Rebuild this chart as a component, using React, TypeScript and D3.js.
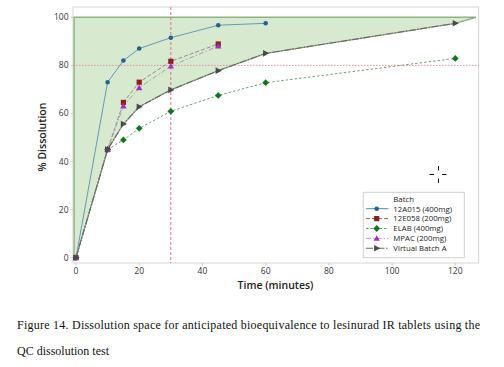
import * as d3 from "d3";

// dissolution data (time in minutes, % dissolved)
const batchNames = ["12A015 (400mg)", "12E058 (200mg)", "ELAB (400mg)", "MPAC (200mg)", "Virtual Batch A"];
const timesA015 = [0, 10, 15, 20, 30, 45, 60];
const valuesA015 = [0, 73, 82, 87, 91.5, 96.7, 97.5];
const timesE058 = [0, 10, 15, 20, 30, 45];
const valuesE058 = [0, 45, 64.6, 73, 81.7, 88.9];
const timesELAB = [0, 10, 15, 20, 30, 45, 60, 120];
const valuesELAB = [0, 45, 49, 53.8, 60.9, 67.5, 72.8, 82.9];
const timesMPAC = [0, 10, 15, 20, 30, 45];
const valuesMPAC = [0, 45, 63.1, 70.7, 79.7, 88];
const timesVirtual = [0, 10, 15, 20, 30, 45, 60, 120];
const valuesVirtual = [0, 45, 55.6, 62.8, 69.8, 77.8, 85, 97.5];
// edge of the shaded dissolution space beyond the last virtual point
const spaceEndTime = 126.5;
const spaceLeftTime = -0.6;

const xTicks = [0, 20, 40, 60, 80, 100, 120];
const yTicks = [0, 20, 40, 60, 80, 100];
const refTime = 30;
const refPct = 80;

const W = 504;
const H = 367;
const font = "'Open Sans', 'Noto Sans', sans-serif";

const x = d3.scaleLinear().domain([0, 120]).range([76, 455.3]);
const y = d3.scaleLinear().domain([0, 100]).range([257.7, 17.3]);
const frame = { x0: 73, x1: 478.7, y0: 7, y1: 263 };

type Series = {
  name: string;
  t: number[];
  v: number[];
  line: string;
  legendLine: string;
  marker: string;
  dash: string;
  width: number;
  shape: string;
};

const series: Series[] = [
  { name: batchNames[0], t: timesA015, v: valuesA015, line: "#5a8fb8", legendLine: "#3f78b0", marker: "#24628f", dash: "", width: 0.9, shape: "circle" },
  { name: batchNames[1], t: timesE058, v: valuesE058, line: "#9a8c8c", legendLine: "#b05050", marker: "#8e1f1f", dash: "4,2", width: 1, shape: "square" },
  { name: batchNames[2], t: timesELAB, v: valuesELAB, line: "#5e9466", legendLine: "#3f9a4a", marker: "#13751f", dash: "2.5,2", width: 0.9, shape: "diamond" },
  { name: batchNames[3], t: timesMPAC, v: valuesMPAC, line: "#ad9fb3", legendLine: "#c890d8", marker: "#a030c0", dash: "5,2,1.5,2", width: 1, shape: "triangle" },
  { name: batchNames[4], t: timesVirtual, v: valuesVirtual, line: "#666", legendLine: "#666", marker: "#4a4a4a", dash: "7,1.5,1.5,1.5", width: 1.1, shape: "right" }
];

function markerPath(shape: string, cx: number, cy: number): string {
  switch (shape) {
    case "circle":
      return `M${cx - 2.3},${cy}a2.3,2.3 0 1,0 4.6,0a2.3,2.3 0 1,0 -4.6,0Z`;
    case "square":
      return `M${cx - 2.6},${cy - 2.6}h5.2v5.2h-5.2Z`;
    case "diamond":
      return `M${cx},${cy - 3.4}L${cx + 3.4},${cy}L${cx},${cy + 3.4}L${cx - 3.4},${cy}Z`;
    case "triangle":
      return `M${cx},${cy - 3.2}L${cx + 3.2},${cy + 2.4}L${cx - 3.2},${cy + 2.4}Z`;
    default:
      return `M${cx - 2.6},${cy - 3.3}L${cx + 3.6},${cy}L${cx - 2.6},${cy + 3.3}Z`;
  }
}

export default function App() {
  const line = d3
    .line<[number, number]>()
    .x((d) => x(d[0]))
    .y((d) => y(d[1]));

  const virtualPts: [number, number][] = timesVirtual.map((t, i) => [t, valuesVirtual[i]]);
  const spacePts: [number, number][] = [
    [spaceLeftTime, 0],
    [spaceLeftTime, 100],
    [spaceEndTime, 100],
    ...virtualPts.slice().reverse()
  ];
  const spacePath = line(spacePts) + "Z";
  const lowerEdge = line([...virtualPts, [spaceEndTime, 100]]);

  const legend = { x: 363.3, y: 192.3, w: 101, h: 65.4 };

  return (
    <svg width={W} height={H} style={{ position: "absolute", left: 0, top: 0, background: "#fff" }}>
      <rect x={0} y={0} width={W} height={H} fill="#fff" />
      {/* frame */}
      <rect
        x={frame.x0}
        y={frame.y0}
        width={frame.x1 - frame.x0}
        height={frame.y1 - frame.y0}
        fill="#fff"
        stroke="#d6d6d6"
        strokeWidth={1}
      />
      {/* dissolution space */}
      <path d={spacePath} fill="#d7e9cf" stroke="none" />
      <path d={line([[spaceLeftTime, 0], [spaceLeftTime, 100], [spaceEndTime, 100]]) ?? ""} fill="none" stroke="#8db47e" strokeWidth={1.4} />
      <path d={lowerEdge ?? ""} fill="none" stroke="#8fa886" strokeWidth={1.2} />

      {/* reference lines */}
      <line x1={frame.x0} x2={frame.x1} y1={y(refPct)} y2={y(refPct)} stroke="#ec8ea4" strokeWidth={1} strokeDasharray="1.5,1.5" />
      <line x1={x(refTime)} x2={x(refTime)} y1={frame.y0} y2={frame.y1} stroke="#e56f8c" strokeWidth={1} strokeDasharray="3,2" />

      {/* series lines */}
      {series.map((s) => (
        <path
          key={s.name}
          d={line(s.t.map((t, i) => [t, s.v[i]] as [number, number])) ?? ""}
          fill="none"
          stroke={s.line}
          strokeWidth={s.width}
          strokeDasharray={s.dash || undefined}
        />
      ))}
      {/* markers */}
      {series.map((s) =>
        s.t.map((t, i) => <path key={s.name + t} d={markerPath(s.shape, x(t), y(s.v[i]))} fill={s.marker} />)
      )}

      {/* axes */}
      {xTicks.map((t) => (
        <g key={"x" + t}>
          <line x1={x(t)} x2={x(t)} y1={frame.y1} y2={frame.y1 + 2.5} stroke="#c8c8c8" />
          <text x={x(t)} y={274} fontSize={8.5} fontFamily={font} fill="#333" textAnchor="middle">
            {t}
          </text>
        </g>
      ))}
      {yTicks.map((t) => (
        <g key={"y" + t}>
          <line x1={frame.x0 - 2.5} x2={frame.x0} y1={y(t)} y2={y(t)} stroke="#c8c8c8" />
          <text x={68.5} y={y(t) + 3} fontSize={8.5} fontFamily={font} fill="#333" textAnchor="end">
            {t}
          </text>
        </g>
      ))}
      <text x={275.5} y={288.5} fontSize={10.5} fontWeight={600} fontFamily={font} fill="#222" textAnchor="middle">
        Time (minutes)
      </text>
      <text
        transform={`translate(46,137) rotate(-90)`}
        fontSize={10.5}
        fontWeight={600}
        fontFamily={font}
        fill="#222"
        textAnchor="middle"
      >
        % Dissolution
      </text>

      {/* legend */}
      <rect x={legend.x} y={legend.y} width={legend.w} height={legend.h} fill="#fff" stroke="#cfcfcf" />
      <text x={393.3} y={202} fontSize={7.8} fontFamily={font} fill="#222">
        Batch
      </text>
      {series.map((s, i) => {
        const cy = 208.7 + i * 9.9;
        return (
          <g key={"lg" + s.name}>
            <line x1={366} x2={388.3} y1={cy} y2={cy} stroke={s.legendLine} strokeWidth={s.width} strokeDasharray={s.dash || undefined} />
            <path d={markerPath(s.shape, 376.7, cy)} fill={s.marker} />
            <text x={393.3} y={cy + 2.8} fontSize={7.8} fontFamily={font} fill="#222">
              {s.name}
            </text>
          </g>
        );
      })}

      {/* cursor crosshair captured in the screenshot */}
      <g stroke="#111" strokeWidth={1}>
        <line x1={429.5} x2={434} y1={174.5} y2={174.5} />
        <line x1={442} x2={446.5} y1={174.5} y2={174.5} />
        <line x1={438.5} x2={438.5} y1={166} y2={170.5} />
        <line x1={438.5} x2={438.5} y1={178.5} y2={183} />
      </g>

      {/* caption */}
      <text
        x={17}
        y={328.5}
        fontSize={12}
        fontFamily="'Liberation Serif', 'Times New Roman', serif"
        fill="#111"
        textLength={463}
        lengthAdjust="spacing"
      >
        Figure 14. Dissolution space for anticipated bioequivalence to lesinurad IR tablets using the
      </text>
      <text x={17} y={354.5} fontSize={12} fontFamily="'Liberation Serif', 'Times New Roman', serif" fill="#111">
        QC dissolution test
      </text>
    </svg>
  );
}
